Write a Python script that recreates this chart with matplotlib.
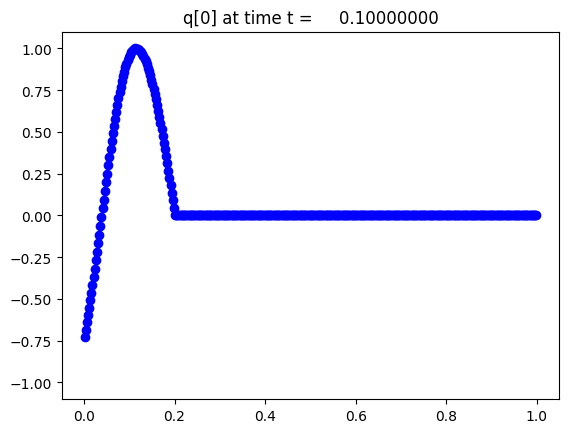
import numpy as np
import matplotlib
matplotlib.use("Agg")
import matplotlib.pyplot as plt

# grid: 400 cells on [0, 1]
mx = 400
dx = 1.0 / mx
xc = dx / 2 + dx * np.arange(mx)

# q[0] values (wave on [0, 0.2], zero elsewhere)
q_rise = [-0.728, -0.686, -0.640, -0.597, -0.553, -0.509, -0.463, -0.416,
          -0.368, -0.319, -0.269, -0.218, -0.167, -0.115, -0.063, -0.011,
          0.042, 0.094, 0.146, 0.198, 0.249, 0.299, 0.349, 0.397,
          0.445, 0.491, 0.536, 0.579, 0.621, 0.661, 0.700, 0.736,
          0.771, 0.803, 0.833, 0.861, 0.886, 0.909, 0.930, 0.948,
          0.963, 0.976, 0.986, 0.993, 0.998, 1.000]
q_fall = [0.999, 0.997, 0.992, 0.985, 0.977, 0.966, 0.953, 0.939,
          0.922, 0.904, 0.884, 0.862, 0.838, 0.812, 0.785, 0.756,
          0.726, 0.694, 0.661, 0.627, 0.591, 0.554, 0.516, 0.476,
          0.436, 0.395, 0.353, 0.311, 0.268, 0.224, 0.180, 0.135,
          0.090, 0.045]
q_wave = q_rise + q_fall
q_rest = [0.0] * (mx - len(q_wave))
q = np.array(q_wave + q_rest)

t = 0.1

fig = plt.figure(figsize=(5.68, 4.35), dpi=100)
ax = fig.add_subplot(111)
fig.subplots_adjust(left=0.109, right=0.984, top=0.925, bottom=0.080)
ax.plot(xc, q, 'bo')
ax.set_ylim(-1.1, 1.1)
ax.set_title('q[0] at time t = %14.8f' % t)
fig.savefig('out.png', dpi=100)
